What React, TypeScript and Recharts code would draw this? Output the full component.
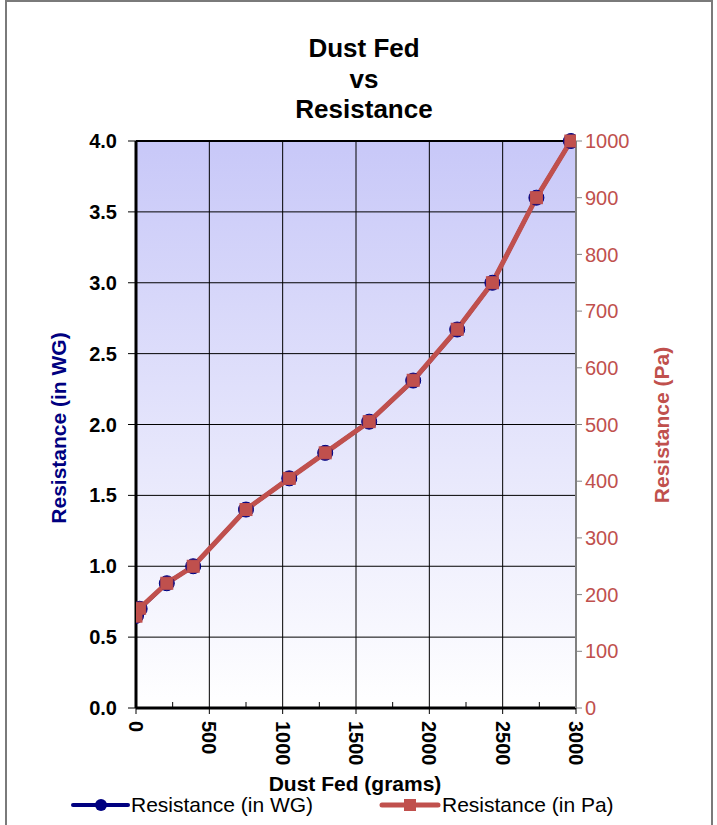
import React from 'react';
import { ComposedChart, Line, XAxis, YAxis, CartesianGrid, ReferenceLine } from 'recharts';

const FONT = '"Liberation Sans", Arial, Helvetica, sans-serif';
const NAVY = '#000080';
const RED = '#C0504D';

// Data
const dustFed = [0, 25, 210, 390, 750, 1045, 1290, 1590, 1890, 2190, 2430, 2730, 2965];
const resistanceWG = [0.65, 0.7, 0.88, 1.0, 1.4, 1.62, 1.8, 2.02, 2.31, 2.67, 3.0, 3.6, 4.0];
const resistancePa = [162, 176, 220, 250, 350, 405, 450, 505, 578, 668, 750, 900, 1000];

// Tick labels / values
const xTicks = [0, 250, 500, 750, 1000, 1250, 1500, 1750, 2000, 2250, 2500, 2750, 3000];
const xGridValues = [500, 1000, 1500, 2000, 2500];
const wgTicks = [0, 0.5, 1.0, 1.5, 2.0, 2.5, 3.0, 3.5, 4.0];
const paTicks = [0, 100, 200, 300, 400, 500, 600, 700, 800, 900, 1000];

const titleLines = ['Dust Fed', 'vs', 'Resistance'];
const xTitle = 'Dust Fed (grams)';
const wgTitle = 'Resistance (in WG)';
const paTitle = 'Resistance (Pa)';

const data = dustFed.map((g, i) => ({ g, wg: resistanceWG[i], pa: resistancePa[i] }));

const XTick = (props: any) => {
  const { x, y, payload } = props;
  const v = payload.value;
  if (v % 500 !== 0) {
    return <line x1={x} x2={x} y1={y - 1} y2={y - 6} stroke="#000" strokeWidth={1} />;
  }
  const ty = y + 13;
  return (
    <g>
      <line x1={x} x2={x} y1={y} y2={y + 6} stroke="#000" strokeWidth={1} />
      <text
        x={x}
        y={ty}
        transform={`rotate(90 ${x} ${ty})`}
        textAnchor="start"
        dominantBaseline="central"
        fontFamily={FONT}
        fontWeight="bold"
        fontSize={20}
        fill="#000"
      >
        {v}
      </text>
    </g>
  );
};

const Square = (props: any) => {
  const { cx, cy } = props;
  if (cx == null || cy == null) return <g />;
  return <rect x={cx - 6} y={cy - 6} width={12} height={12} fill={RED} stroke={RED} strokeWidth={1} />;
};

const Circle = (props: any) => {
  const { cx, cy } = props;
  if (cx == null || cy == null) return <g />;
  return <circle cx={cx} cy={cy} r={7.5} fill={NAVY} stroke={NAVY} strokeWidth={1} />;
};

export default function App() {
  return (
    <div
      style={{
        position: 'absolute',
        left: 0,
        top: 0,
        width: 717,
        height: 825,
        overflow: 'hidden',
        background: '#fff',
      }}
    >
      <svg width={0} height={0} style={{ position: 'absolute' }}>
        <defs>
          <linearGradient id="plotGrad" x1="0" y1="0" x2="0" y2="1">
            <stop offset="0%" stopColor="#C8C8F8" />
            <stop offset="100%" stopColor="#FFFFFF" />
          </linearGradient>
        </defs>
      </svg>
      <div
        style={{
          position: 'absolute',
          left: 5,
          top: 0,
          width: 708,
          height: 900,
          border: '2px solid #7a7a7a',
          boxSizing: 'border-box',
        }}
      />
      <div style={{ position: 'absolute', left: 0, top: 0 }}>
        <ComposedChart
          width={717}
          height={825}
          data={data}
          margin={{ top: 141, right: 0, bottom: 0, left: 0 }}
        >
          <CartesianGrid
            yAxisId="wg"
            vertical={false}
            stroke="#000"
            strokeWidth={1}
            fill="url(#plotGrad)"
            fillOpacity={1}
          />
          <XAxis
            dataKey="g"
            type="number"
            domain={[0, 3000]}
            ticks={xTicks}
            interval={0}
            height={117}
            tickSize={0}
            tickMargin={0}
            tickLine={false}
            tick={<XTick />}
            axisLine={{ stroke: '#000', strokeWidth: 3 }}
            allowDataOverflow
          />
          <YAxis
            yAxisId="wg"
            orientation="left"
            domain={[0, 4]}
            ticks={wgTicks}
            interval={0}
            width={136}
            tickSize={8}
            tickMargin={11}
            tickFormatter={(v: number) => v.toFixed(1)}
            tick={{ fill: '#000', fontSize: 20, fontWeight: 'bold', fontFamily: FONT }}
            tickLine={{ stroke: '#000' }}
            axisLine={{ stroke: '#000', strokeWidth: 3 }}
          />
          <YAxis
            yAxisId="pa"
            orientation="right"
            domain={[0, 1000]}
            ticks={paTicks}
            interval={0}
            width={141}
            tickSize={6}
            tickMargin={3}
            tick={{ fill: RED, fontSize: 20, fontFamily: FONT }}
            tickLine={{ stroke: '#808080' }}
            axisLine={{ stroke: '#808080', strokeWidth: 2 }}
          />
          {xGridValues.map((v) => (
            <ReferenceLine key={v} x={v} yAxisId="wg" stroke="#000" strokeWidth={1} />
          ))}
          <ReferenceLine y={4} yAxisId="wg" stroke="#000" strokeWidth={2} />
          <Line
            yAxisId="wg"
            dataKey="wg"
            type="linear"
            stroke={NAVY}
            strokeWidth={4}
            dot={<Circle />}
            isAnimationActive={false}
          />
          <Line
            yAxisId="pa"
            dataKey="pa"
            type="linear"
            stroke={RED}
            strokeWidth={5}
            dot={<Square />}
            isAnimationActive={false}
          />
        </ComposedChart>
      </div>
      <svg
        width={717}
        height={825}
        style={{ position: 'absolute', left: 0, top: 0, pointerEvents: 'none' }}
      >
        <g fontFamily={FONT} fontWeight="bold" fontSize={26} fill="#000" textAnchor="middle">
          <text x={364} y={57}>{titleLines[0]}</text>
          <text x={364} y={88}>{titleLines[1]}</text>
          <text x={364} y={118}>{titleLines[2]}</text>
        </g>
        <text x={355} y={791} fontFamily={FONT} fontWeight="bold" fontSize={21} textAnchor="middle" fill="#000">
          {xTitle}
        </text>
        <text
          x={58}
          y={428}
          transform="rotate(-90 58 428)"
          fontFamily={FONT}
          fontWeight="bold"
          fontSize={21}
          textAnchor="middle"
          dominantBaseline="central"
          fill={NAVY}
        >
          {wgTitle}
        </text>
        <text
          x={661}
          y={425}
          transform="rotate(-90 661 425)"
          fontFamily={FONT}
          fontWeight="bold"
          fontSize={21}
          textAnchor="middle"
          dominantBaseline="central"
          fill={RED}
        >
          {paTitle}
        </text>
        {/* legend */}
        <line x1={73} x2={128} y1={805} y2={805} stroke={NAVY} strokeWidth={4} strokeLinecap="round" />
        <circle cx={101} cy={805} r={6} fill={NAVY} />
        <text x={131} y={812} fontFamily={FONT} fontSize={21} fill="#000">
          Resistance (in WG)
        </text>
        <line x1={382} x2={438} y1={805} y2={805} stroke={RED} strokeWidth={5} strokeLinecap="round" />
        <rect x={404} y={799} width={12} height={12} fill={RED} />
        <text x={442} y={812} fontFamily={FONT} fontSize={21} fill="#000">
          Resistance (in Pa)
        </text>
      </svg>
    </div>
  );
}
